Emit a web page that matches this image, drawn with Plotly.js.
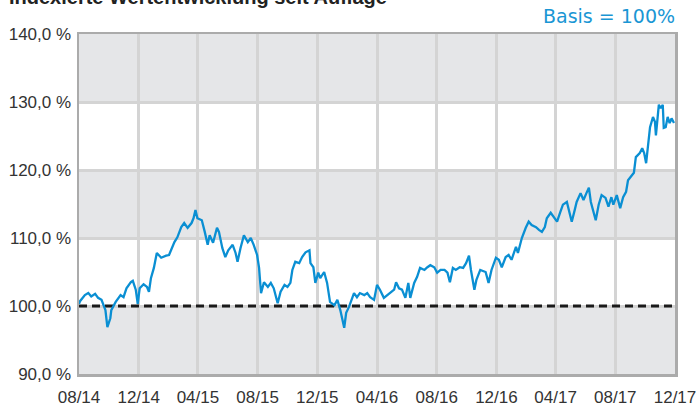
<!DOCTYPE html>
<html><head><meta charset="utf-8">
<script src="https://cdn.plot.ly/plotly-3.0.1.min.js"></script>
<style>html,body{margin:0;padding:0;background:#fff}#chart{width:700px;height:405px}</style>
</head><body><div id="chart"></div>
<script>
const chartTitle = 'Indexierte Wertentwicklung seit Auflage';
const basisLabel = 'Basis = 100%';
const basis = 100;

const dates = [
'2014-08-01','2014-08-03','2014-08-13','2014-08-20','2014-08-26','2014-09-03','2014-09-09','2014-09-16','2014-09-24','2014-09-28',
'2014-10-04','2014-10-06','2014-10-15','2014-10-25','2014-10-31','2014-11-06','2014-11-15','2014-11-19','2014-11-25','2014-11-29',
'2014-12-03','2014-12-11','2014-12-18','2014-12-22','2014-12-26','2015-01-01','2015-01-07','2015-01-16','2015-01-26','2015-02-01',
'2015-02-12','2015-02-18','2015-02-26','2015-03-04','2015-03-11','2015-03-19','2015-03-23','2015-03-27','2015-03-31','2015-04-09',
'2015-04-15','2015-04-21','2015-04-25','2015-05-02','2015-05-10','2015-05-14','2015-05-21','2015-05-27','2015-06-02','2015-06-11',
'2015-06-17','2015-06-21','2015-06-27','2015-07-04','2015-07-12','2015-07-18','2015-07-24','2015-07-31','2015-08-04','2015-08-08',
'2015-08-14','2015-08-22','2015-08-28','2015-09-03','2015-09-11','2015-09-17','2015-09-25','2015-10-01','2015-10-07','2015-10-11',
'2015-10-17','2015-10-25','2015-10-31','2015-11-07','2015-11-15','2015-11-17','2015-11-23','2015-11-27','2015-12-03','2015-12-07',
'2015-12-15','2015-12-21','2015-12-27','2016-01-05','2016-01-11','2016-01-17','2016-01-25','2016-01-29','2016-02-04','2016-02-08',
'2016-02-14','2016-02-20','2016-02-26','2016-03-06','2016-03-12','2016-03-18','2016-03-26','2016-04-01','2016-04-07','2016-04-15',
'2016-04-22','2016-04-28','2016-05-06','2016-05-10','2016-05-16','2016-05-22','2016-05-29','2016-06-04','2016-06-08','2016-06-16',
'2016-06-22','2016-06-28','2016-07-07','2016-07-13','2016-07-19','2016-07-27','2016-08-02','2016-08-09','2016-08-17','2016-08-23',
'2016-08-28','2016-09-03','2016-09-09','2016-09-17','2016-09-24','2016-09-30','2016-10-06','2016-10-10','2016-10-17','2016-10-21',
'2016-10-29','2016-11-09','2016-11-15','2016-11-21','2016-11-30','2016-12-06','2016-12-12','2016-12-20','2016-12-26','2017-01-01',
'2017-01-10','2017-01-14','2017-01-22','2017-01-30','2017-02-05','2017-02-11','2017-02-20','2017-02-26','2017-03-04','2017-03-10',
'2017-03-14','2017-03-22','2017-03-28','2017-04-04','2017-04-10','2017-04-16','2017-04-24','2017-04-28','2017-05-04','2017-05-10',
'2017-05-14','2017-05-22','2017-05-28','2017-06-03','2017-06-08','2017-06-12','2017-06-18','2017-06-22','2017-06-28','2017-07-04',
'2017-07-12','2017-07-18','2017-07-24','2017-07-28','2017-08-04','2017-08-11','2017-08-17','2017-08-23','2017-08-27','2017-09-02',
'2017-09-08','2017-09-12','2017-09-20','2017-09-25','2017-09-29','2017-10-03','2017-10-07','2017-10-11','2017-10-17','2017-10-21',
'2017-10-23','2017-10-29','2017-11-02','2017-11-06','2017-11-08','2017-11-12','2017-11-16','2017-11-20','2017-11-24','2017-11-29'
];
const values = [
100.3,100.7,101.6,101.9,101.4,101.8,101.2,100.9,99.4,96.9,
98.2,99.4,100.6,101.6,101.3,102.6,103.5,103.7,102.4,100.3,
102.6,103.2,102.8,102.1,104.1,105.6,107.8,107.1,107.4,107.5,
109.4,110.1,111.6,112.2,111.5,112.2,112.9,114.1,112.9,112.6,
110.9,109.0,110.4,109.3,111.5,110.9,108.5,107.2,108.2,109.0,
107.8,106.5,108.5,110.4,109.4,110.0,109.0,107.5,105.6,101.9,
103.5,102.8,103.4,102.6,100.4,102.1,103.1,102.8,103.4,105.3,
106.5,106.3,107.2,107.9,108.2,106.3,105.7,103.4,104.9,104.1,
105.0,103.4,100.6,100.1,100.9,99.4,96.8,99.0,99.9,100.6,
101.9,101.3,101.9,101.6,101.9,101.3,100.9,103.1,102.4,101.2,
101.6,101.9,102.4,103.5,102.6,102.4,101.2,103.4,101.2,103.4,
104.3,105.6,105.3,105.7,106.0,105.7,104.9,105.3,105.3,104.9,
103.5,105.6,105.3,105.7,105.6,106.3,107.4,105.3,102.4,103.8,
105.3,105.0,103.4,105.3,107.1,106.8,105.7,107.2,107.5,106.8,
108.7,107.8,110.0,111.5,112.4,111.9,111.6,111.2,110.9,111.6,
112.9,113.7,113.1,112.4,113.7,114.9,115.3,114.1,112.4,114.1,
115.3,116.6,115.6,116.6,117.4,115.3,113.8,112.6,114.9,116.3,
115.9,114.6,116.0,114.9,116.3,114.4,116.0,116.8,118.5,119.0,
119.6,121.9,122.5,123.2,122.5,121.0,124.1,126.3,127.8,127.1,
125.1,129.6,129.1,129.6,126.2,126.3,127.8,126.9,127.6,126.9
];

const xRange = ['2014-08-01','2017-12-01'];
const xTickVals = ['2014-08-01','2014-12-01','2015-04-01','2015-08-01','2015-12-01','2016-04-01','2016-08-01','2016-12-01','2017-04-01','2017-08-01','2017-12-01'];
const xTickText = ['08/14','12/14','04/15','08/15','12/15','04/16','08/16','12/16','04/17','08/17','12/17'];
const yTickVals = [90,100,110,120,130,140];
const yTickText = ['90,0 %','100,0 %','110,0 %','120,0 %','130,0 %','140,0 %'];
const yRange = [90,140];

const bandColor = '#e5e6e8';
const shapes = [];
for (let i = 0; i < yTickVals.length - 1; i++) {
  if (i % 2 === 0) {
    shapes.push({type:'rect', layer:'below', xref:'paper', x0:0, x1:1, yref:'y',
      y0:yTickVals[i], y1:yTickVals[i+1], fillcolor:bandColor, line:{width:0}});
  }
}

const traces = [
  {x: xRange, y: [basis, basis], mode:'lines', hoverinfo:'skip',
   line:{color:'#1a1a1a', width:3, dash:'8px,5px'}},
  {x: dates, y: values, mode:'lines', line:{color:'#0a8fd3', width:2.3}}
];

const layout = {
  width:700, height:405,
  margin:{l:79, r:25, t:34, b:31},
  paper_bgcolor:'#ffffff', plot_bgcolor:'#ffffff',
  showlegend:false,
  font:{family:'"Liberation Sans", Arial, sans-serif', color:'#333333', size:17},
  xaxis:{type:'date', range:xRange, tickvals:xTickVals, ticktext:xTickText,
    showgrid:true, gridcolor:'#d4d4d4', gridwidth:3,
    showline:true, mirror:true, linecolor:'#ababab', linewidth:2.5,
    ticks:'outside', ticklen:6, tickcolor:'rgba(0,0,0,0)', zeroline:false,
    tickfont:{size:17, color:'#333333'}},
  yaxis:{range:yRange, tickvals:yTickVals, ticktext:yTickText,
    showgrid:true, gridcolor:'#d4d4d4', gridwidth:3,
    showline:true, mirror:true, linecolor:'#ababab', linewidth:2.5,
    ticks:'outside', ticklen:2, tickcolor:'rgba(0,0,0,0)', zeroline:false,
    tickfont:{size:17, color:'#333333'}},
  shapes: shapes,
  annotations:[
    {text:'<b>'+chartTitle+'</b>', xref:'paper', yref:'paper', x:-0.121, y:1.108,
     xanchor:'left', yanchor:'middle', showarrow:false,
     font:{size:20, color:'#222222', family:'"Liberation Sans", Arial, sans-serif'}},
    {text:basisLabel, xref:'paper', yref:'paper', x:1.003, y:1.053,
     xanchor:'right', yanchor:'middle', showarrow:false,
     font:{size:19, color:'#1a96d4', family:'"DejaVu Sans", Verdana, sans-serif'}}
  ]
};

Plotly.newPlot('chart', traces, layout, {displayModeBar:false, staticPlot:true});
</script>
</body></html>
